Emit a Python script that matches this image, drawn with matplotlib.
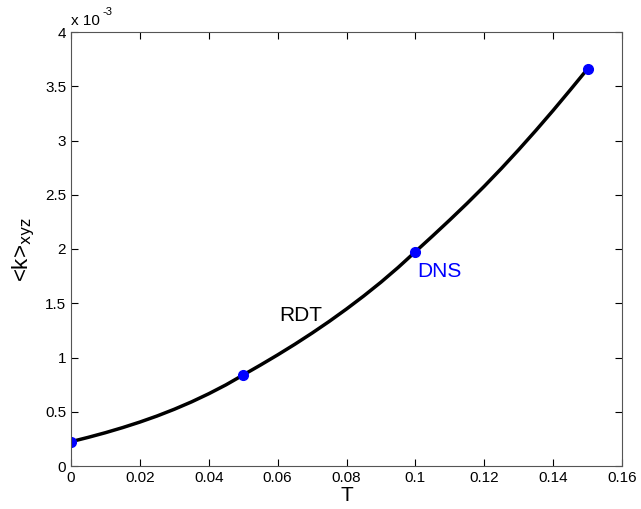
import numpy as np
import matplotlib.pyplot as plt

# RDT curve (every 0.005)
t_rdt = [0, 0.005, 0.01, 0.015, 0.02, 0.025, 0.03, 0.035, 0.04, 0.045, 0.05,
         0.055, 0.06, 0.065, 0.07, 0.075, 0.08, 0.085, 0.09, 0.095, 0.10,
         0.105, 0.11, 0.115, 0.12, 0.125, 0.13, 0.135, 0.14, 0.145, 0.15]
k_rdt = [0.224, 0.264, 0.307, 0.354, 0.405, 0.461, 0.523, 0.591, 0.666, 0.748, 0.839,
         0.930, 1.024, 1.122, 1.225, 1.333, 1.447, 1.567, 1.694, 1.830, 1.975,
         2.120, 2.268, 2.420, 2.578, 2.743, 2.915, 3.093, 3.277, 3.467, 3.660]

# DNS points
t_dns = [0, 0.05, 0.10, 0.15]
k_dns = [0.224, 0.839, 1.975, 3.66]

scale = 1e-3

plt.rcParams['font.family'] = ['Liberation Sans', 'DejaVu Sans']

fig = plt.figure(figsize=(6.41, 5.09), dpi=100)
ax = fig.add_axes([71 / 641, 1 - 466 / 509, 551 / 641, 434 / 509])

ax.plot(t_rdt, np.array(k_rdt) * scale, color='black', lw=2.5)
ax.plot(t_dns, np.array(k_dns) * scale, 'o', color='blue', ms=7, ls='none')

ax.text(0.0666, 1.39e-3, 'RDT', fontsize=15, ha='center', va='center')
ax.text(0.1005, 1.79e-3, 'DNS', fontsize=15, ha='left', va='center', color='blue')

ax.set_xlim(0, 0.16)
ax.set_ylim(0, 4e-3)
ax.set_xticks(np.arange(0, 0.161, 0.02))
ax.set_xticklabels(['0', '0.02', '0.04', '0.06', '0.08', '0.1', '0.12', '0.14', '0.16'])
ax.set_yticks(np.arange(0, 4.01e-3, 0.5e-3))
ax.set_yticklabels(['0', '0.5', '1', '1.5', '2', '2.5', '3', '3.5', '4'])
ax.tick_params(direction='in', top=True, right=True, labelsize=11, length=5)
for s in ax.spines.values():
    s.set_color('#555555')

ax.text(0, 1.01, 'x 10', transform=ax.transAxes, fontsize=11,
        ha='left', va='bottom')
ax.text(0.058, 1.035, '-3', transform=ax.transAxes, fontsize=8,
        ha='left', va='bottom')

ax.set_xlabel('T', fontsize=15, labelpad=1)
ax.set_ylabel(r'<k>$_{\mathrm{xyz}}$', fontsize=16, labelpad=6)

fig.savefig('out.png', dpi=100)
